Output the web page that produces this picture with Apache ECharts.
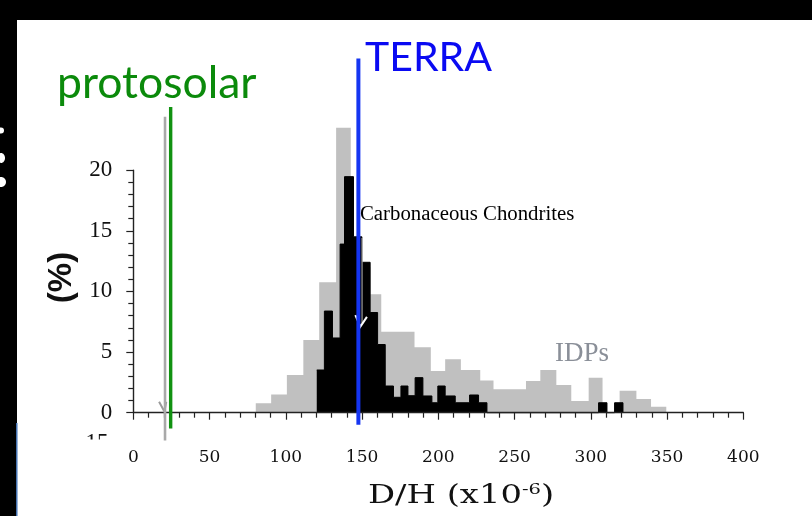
<!DOCTYPE html>
<html><head><meta charset="utf-8">
<script src="https://cdn.jsdelivr.net/npm/echarts@6/dist/echarts.min.js"></script>
<style>html,body{margin:0;padding:0;background:#000;}#c{width:812px;height:516px;}</style>
</head><body><div id="c"></div>
<script>
// ---- data (D/H in units of 1e-6, frequency in %) ----
const xTicks = [0, 50, 100, 150, 200, 250, 300, 350, 400];
const yTicks = [0, 5, 10, 15, 20];
// IDPs histogram (grey): bin edges and heights
const idpEdges = [80.3, 90.4, 100.7, 111.5, 121.9, 133.0, 142.6, 155.4, 162.6, 184.4, 195.1, 204.5, 214.8, 227.5, 236.2, 257.5, 266.9, 277.4, 287.2, 298.6, 307.7, 318.9, 329.9, 339.5, 349.5];
const idpValues = [0.77, 1.51, 3.1, 6.0, 10.75, 23.5, 12.0, 9.76, 6.68, 5.39, 3.44, 4.4, 3.52, 2.65, 1.93, 2.61, 3.52, 2.28, 0.96, 2.89, 0, 1.81, 1.13, 0.49];
// Carbonaceous chondrites histogram (black)
const ccEdges = [120.3, 125.3, 130.6, 135.6, 138.5, 144.4, 149.9, 155.3, 160.2, 165.2, 170.6, 175.5, 180.1, 184.8, 189.9, 195.8, 199.7, 204.5, 211.1, 220.5, 226.4, 231.9, 305.1, 310.6, 315.6, 321.1];
const ccValues = [3.52, 8.38, 6.16, 13.9, 19.46, 14.5, 12.4, 8.26, 5.62, 2.2, 1.27, 2.2, 1.4, 2.89, 1.38, 0.82, 2.2, 1.38, 0.82, 1.46, 0.82, 0, 0.82, 0, 0.82];
// reference values (vertical lines) and their drawn extents in % units
const refNames = ['grey', 'protosolar', 'TERRA'];
const refX = [20.8, 24.5, 147.6];
const refY0 = [-2.3, -1.3, -1.0];
const refY1 = [24.4, 25.2, 29.2];
const refColors = ['#a9a9a9', '#119211', '#1535f2'];
const refWidths = [2.6, 3.4, 4];

function stepData(edges, values) {
  const d = [];
  for (let i = 0; i < values.length; i++) d.push([edges[i], values[i]]);
  d.push([edges[edges.length - 1], 0]);
  return d;
}

const chart = echarts.init(document.getElementById('c'));
const option = {
  backgroundColor: '#000',
  animation: false,
  grid: { left: 133.3, right: 68.7, top: 170.1, bottom: 103.3, containLabel: false },
  xAxis: {
    type: 'value', min: 0, max: 400, interval: 50, z: 5,
    axisLine: { show: true, onZero: false, lineStyle: { color: '#222', width: 1.4 } },
    axisTick: { show: true, length: 7, lineStyle: { color: '#222', width: 1.2 } },
    minorTick: { show: true, splitNumber: 5, length: 5, lineStyle: { color: '#222', width: 1.2 } },
    splitLine: { show: false },
    axisLabel: { margin: 36, fontFamily: 'DejaVu Serif', fontSize: 17, color: '#111',
      formatter: v => xTicks.includes(v) ? String(v) : '' }
  },
  yAxis: {
    type: 'value', min: 0, max: 20, interval: 5, z: 5,
    axisLine: { show: true, lineStyle: { color: '#222', width: 1.4 } },
    axisTick: { show: true, length: 7, lineStyle: { color: '#222', width: 1.2 } },
    minorTick: { show: true, splitNumber: 5, length: 5, lineStyle: { color: '#222', width: 1.2 } },
    splitLine: { show: false },
    axisLabel: { margin: 21, fontFamily: 'Liberation Serif', fontSize: 23, color: '#111', padding: [6, 0, 0, 0],
      formatter: v => yTicks.includes(v) ? String(v) : '' }
  },
  series: [
    { name: 'IDPs', type: 'line', step: 'end', data: stepData(idpEdges, idpValues), showSymbol: false, clip: false,
      lineStyle: { width: 0, opacity: 0 }, areaStyle: { color: '#c0c0c0', opacity: 1 }, z: 2 },
    { name: 'Carbonaceous Chondrites', type: 'line', step: 'end', data: stepData(ccEdges, ccValues), showSymbol: false, clip: false,
      lineStyle: { width: 1, color: '#000' }, areaStyle: { color: '#000', opacity: 1 }, z: 3 }
  ]
};
chart.setOption(option);

const P = (x, y) => chart.convertToPixel({ gridIndex: 0 }, [x, y]);
const g = [];
// white page area of the slide
g.push({ type: 'rect', z: -10, silent: true, shape: { x: 17, y: 20, width: 795, height: 496 }, style: { fill: '#fff' } });
// glyph remnants in left black strip
g.push({ type: 'circle', z: -5, shape: { cx: 1, cy: 130.5, r: 3 }, style: { fill: '#fff' } });
g.push({ type: 'ellipse', z: -5, shape: { cx: 1, cy: 158, rx: 4, ry: 5 }, style: { fill: '#fff' } });
g.push({ type: 'ellipse', z: -5, shape: { cx: 1, cy: 182, rx: 5, ry: 5 }, style: { fill: '#fff' } });
// thin blue edge at bottom left
g.push({ type: 'line', z: -4, shape: { x1: 16.8, y1: 423, x2: 16.8, y2: 516 }, style: { stroke: '#4a78b8', lineWidth: 1.5 } });
// cut-off "15" label peeking from beneath
g.push({ type: 'text', z: -3, style: { text: '15', x: 108.5, y: 431, align: 'right', verticalAlign: 'top', fontFamily: 'Liberation Serif', fontSize: 23, fill: '#111' } });
g.push({ type: 'rect', z: -2, shape: { x: 80, y: 439.5, width: 40, height: 14 }, style: { fill: '#fff' } });
// vertical reference lines
for (let i = 0; i < refX.length; i++) {
  const a = P(refX[i], refY0[i]), b = P(refX[i], refY1[i]);
  g.push({ type: 'line', z: 100 + i, shape: { x1: a[0], y1: a[1], x2: b[0], y2: b[1] }, style: { stroke: refColors[i], lineWidth: refWidths[i] } });
}
// small grey arrowhead at the foot of the grey line
{
  const p1 = P(16.9, 0.9), p2 = P(20.4, 0.1), p3 = P(21.6, 0.9);
  g.push({ type: 'polyline', z: 99, shape: { points: [p1, p2, p3] }, style: { stroke: '#9a9a9a', lineWidth: 2, fill: null } });
}
// white arrow inside the chondrite peak
{
  const s1 = P(150.0, 14.4), s2 = P(150.0, 7.4);
  g.push({ type: 'line', z: 50, shape: { x1: s1[0], y1: s1[1], x2: s2[0], y2: s2[1] }, style: { stroke: '#bdbdbd', lineWidth: 1 } });
  const a1 = P(145.6, 8.05), a2 = P(148.9, 7.1), a3 = P(153.2, 7.9);
  g.push({ type: 'polyline', z: 50, shape: { points: [a1, a2, a3] }, style: { stroke: '#fff', lineWidth: 2, fill: null } });
}
// texts
g.push({ type: 'text', z: 120, style: { text: 'protosolar', x: 57, y: 84, verticalAlign: 'middle', fontFamily: 'Lato', fontSize: 44.5, fill: '#0b8a0b' } });
g.push({ type: 'text', z: 120, style: { text: 'TERRA', x: 365, y: 58, verticalAlign: 'middle', fontFamily: 'Lato', fontSize: 41, fill: '#0a0af2' } });
g.push({ type: 'text', z: 60, style: { text: 'Carbonaceous Chondrites', x: 360, y: 215, verticalAlign: 'middle', fontFamily: 'Liberation Serif', fontSize: 20.8, fill: '#000' } });
g.push({ type: 'text', z: 60, style: { text: 'IDPs', x: 555, y: 354, verticalAlign: 'middle', fontFamily: 'Liberation Serif', fontSize: 27, fill: '#8a8f98' } });
g.push({ type: 'text', z: 60, x: 62, y: 277.5, rotation: Math.PI / 2, style: { text: '(%)', x: 0, y: 0, align: 'center', verticalAlign: 'middle', fontFamily: 'Liberation Sans', fontWeight: 'bold', fontSize: 33, fill: '#111' } });
g.push({ type: 'text', z: 60, x: 461, y: 496, scaleX: 1.3, style: { text: '{a|D/H (x10}{s|-6}{a|)}', x: 0, y: 0, align: 'center', verticalAlign: 'middle',
  rich: { a: { fontFamily: 'DejaVu Serif', fontSize: 26, fill: '#111', color: '#111' }, s: { fontFamily: 'DejaVu Serif', fontSize: 15, fill: '#111', color: '#111', verticalAlign: 'top', padding: [0, 0, 10, 0] } } } });
chart.setOption({ graphic: g });
</script>
</body></html>
